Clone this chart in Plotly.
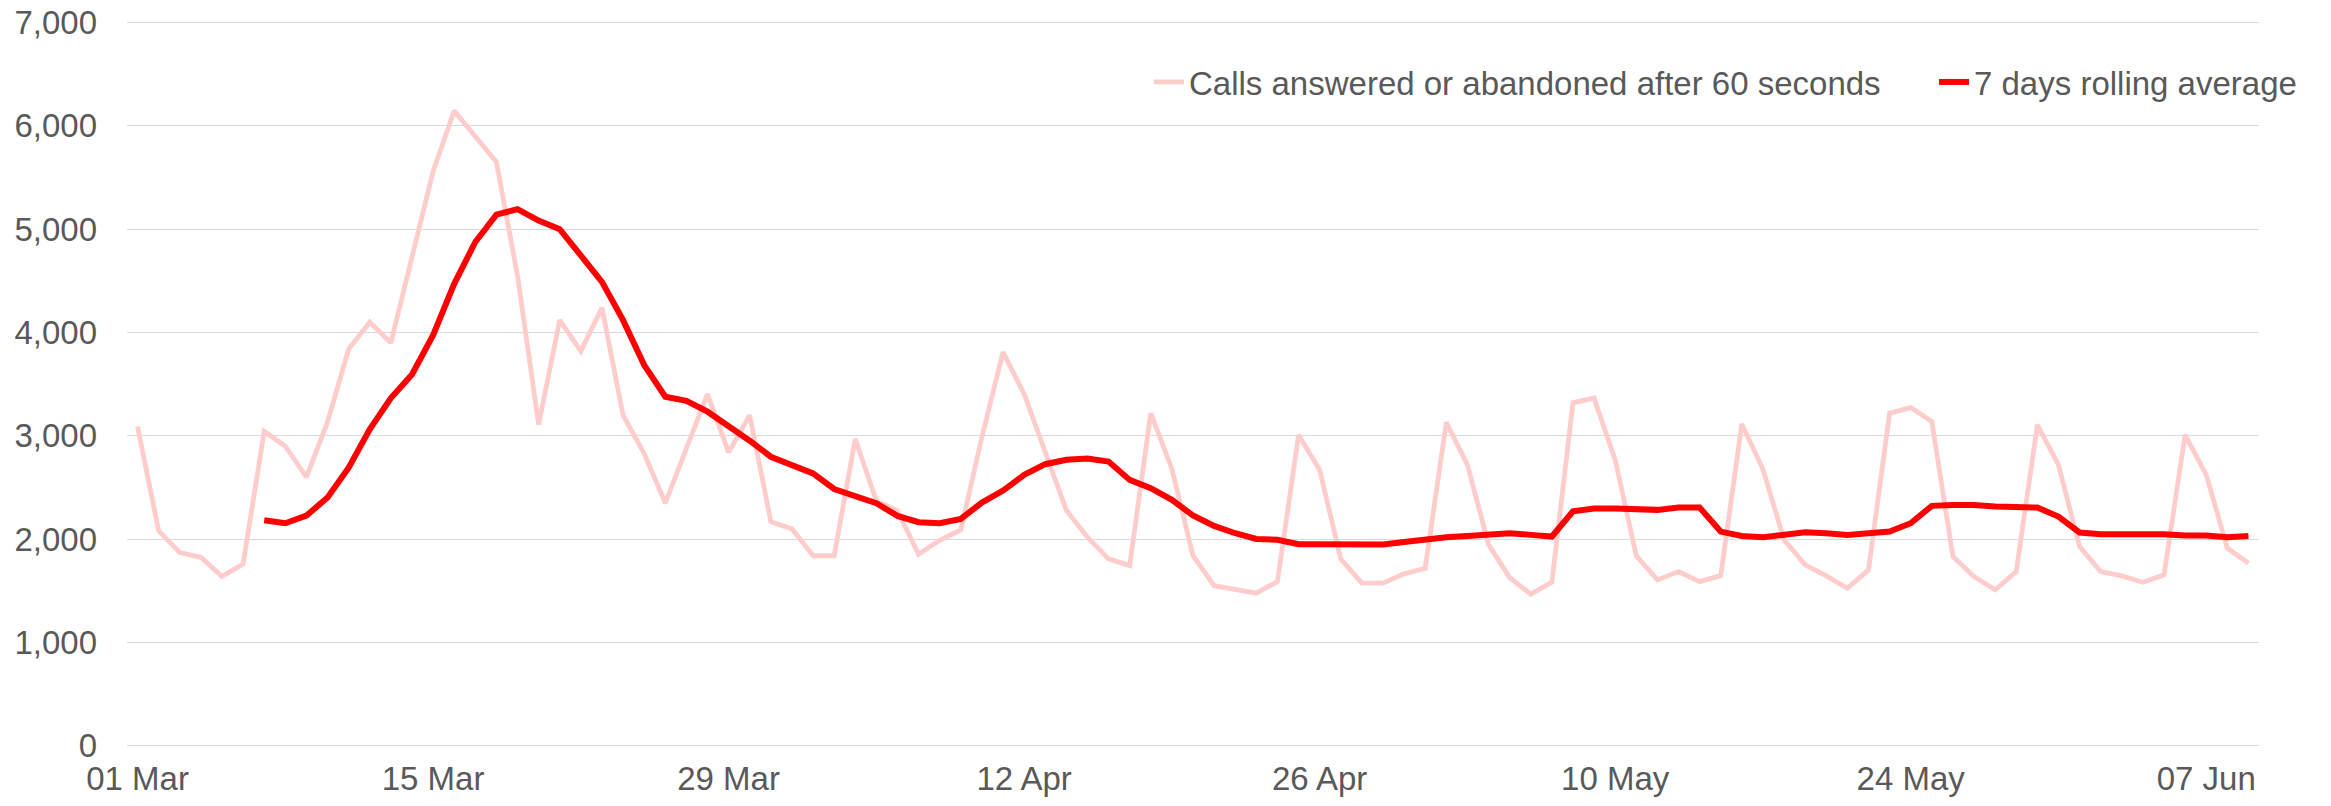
import pandas as pd
import plotly.graph_objects as go

# ---- data ----
dates = pd.date_range("2020-03-01", "2020-06-09", freq="D")

calls_over_60s = [
    3090, 2080, 1870, 1825, 1640, 1760, 3045, 2900, 2600, 3135,   # 01-10 Mar
    3840, 4100, 3900, 4730, 5560, 6145, 5900, 5650, 4550, 3110,   # 11-20 Mar
    4120, 3820, 4240, 3200, 2830, 2350, 2880, 3405, 2840, 3200,   # 21-30 Mar
    2170, 2100, 1840, 1840, 2970, 2370, 2275, 1855, 1990, 2090,   # 31 Mar-09 Apr
    2990, 3810, 3405, 2855, 2280, 2020, 1810, 1745, 3220, 2680,   # 10-19 Apr
    1840, 1550, 1517, 1478, 1590, 3008, 2670, 1810, 1575, 1575,   # 20-29 Apr
    1665, 1718, 3132, 2720, 1948, 1629, 1468, 1584, 3320, 3365,   # 30 Apr-09 May
    2768, 1839, 1606, 1687, 1590, 1648, 3116, 2677, 1994, 1752,   # 10-19 May
    1645, 1526, 1703, 3219, 3274, 3139, 1832, 1639, 1510, 1687,   # 20-29 May
    3106, 2719, 1929, 1687, 1645, 1584, 1655, 3010, 2623, 1913,   # 30 May-08 Jun
    1768,                                                         # 09 Jun
]

rolling_avg = [None] * 6 + [
    2184, 2155, 2229, 2403,                                       # 07-10 Mar
    2692, 3064, 3366, 3594, 3974, 4471, 4876, 5141, 5194, 5083,   # 11-20 Mar
    5000, 4752, 4491, 4120, 3685, 3379, 3340, 3234, 3098, 2953,   # 21-30 Mar
    2798, 2712, 2637, 2486, 2420, 2348, 2226, 2165, 2155, 2197,   # 31 Mar-09 Apr
    2355, 2471, 2623, 2726, 2768, 2780, 2752, 2574, 2494, 2381,   # 10-19 Apr
    2229, 2129, 2058, 2003, 1994, 1952, 1952, 1950, 1950, 1950,   # 20-29 Apr
    1974, 2003, 2019, 2032, 2048, 2058, 2042, 2026, 2270, 2297,   # 30 Apr-09 May
    2297, 2284, 2284, 2306, 2306, 2074, 2032, 2019, 2042, 2068,   # 10-19 May
    2058, 2042, 2058, 2074, 2155, 2323, 2332, 2332, 2316, 2316,   # 20-29 May
    2306, 2219, 2065, 2048, 2048, 2058, 2048, 2035, 2035, 2019,   # 30 May-08 Jun
    2032,                                                         # 09 Jun
]

series_names = ["Calls answered or abandoned after 60 seconds", "7 days rolling average"]
y_tick_values = [0, 1000, 2000, 3000, 4000, 5000, 6000, 7000]

FONT = "Liberation Sans, Arial, sans-serif"
GREY = "#595959"

FIG_W, FIG_H = 2331, 806

fig = go.Figure()
fig.add_trace(go.Scatter(
    x=dates, y=calls_over_60s, mode="lines", name=series_names[0],
    line=dict(color="#FFCCCC", width=4.8), legend="legend",
))
fig.add_trace(go.Scatter(
    x=dates, y=rolling_avg, mode="lines", name=series_names[1],
    line=dict(color="#FF0000", width=6), legend="legend2",
))

legend_common = dict(
    orientation="h", xanchor="left", yanchor="middle",
    xref="container", yref="container",
    bgcolor="rgba(0,0,0,0)", borderwidth=0,
    font=dict(family=FONT, size=33, color=GREY),
)

fig.update_layout(
    width=FIG_W, height=FIG_H,
    margin=dict(l=127, r=72, t=19, b=57, autoexpand=False),
    paper_bgcolor="white", plot_bgcolor="white",
    font=dict(family=FONT, size=33, color=GREY),
    showlegend=True,
    legend=dict(x=1149 / FIG_W, y=1 - 82 / FIG_H, **legend_common),
    legend2=dict(x=1934 / FIG_W, y=1 - 82 / FIG_H, **legend_common),
    xaxis=dict(
        type="date",
        range=["2020-02-29 12:00", "2020-06-09 12:00"],
        tick0="2020-03-01", dtick=14 * 86400000, tickformat="%d %b",
        showgrid=False, zeroline=False, showline=False,
        ticks="", ticklabelstandoff=7, automargin=False,
        ticklabeloverflow="allow",
        tickfont=dict(size=33, color=GREY),
    ),
    yaxis=dict(
        range=[-30, 7034], tickvals=y_tick_values, tickformat=",",
        showgrid=True, gridcolor="#D9D9D9", gridwidth=1.3,
        zeroline=False, showline=False, ticks="", ticklabelstandoff=29,
        automargin=False, ticklabeloverflow="allow",
        tickfont=dict(size=33, color=GREY),
    ),
)

# remove the browser's default 8px body margin so the figure fills the window exactly
fig.write_html(
    "out.html",
    config={"displayModeBar": False},
    post_script="document.body.style.margin='0px';document.body.style.overflow='hidden';",
)
